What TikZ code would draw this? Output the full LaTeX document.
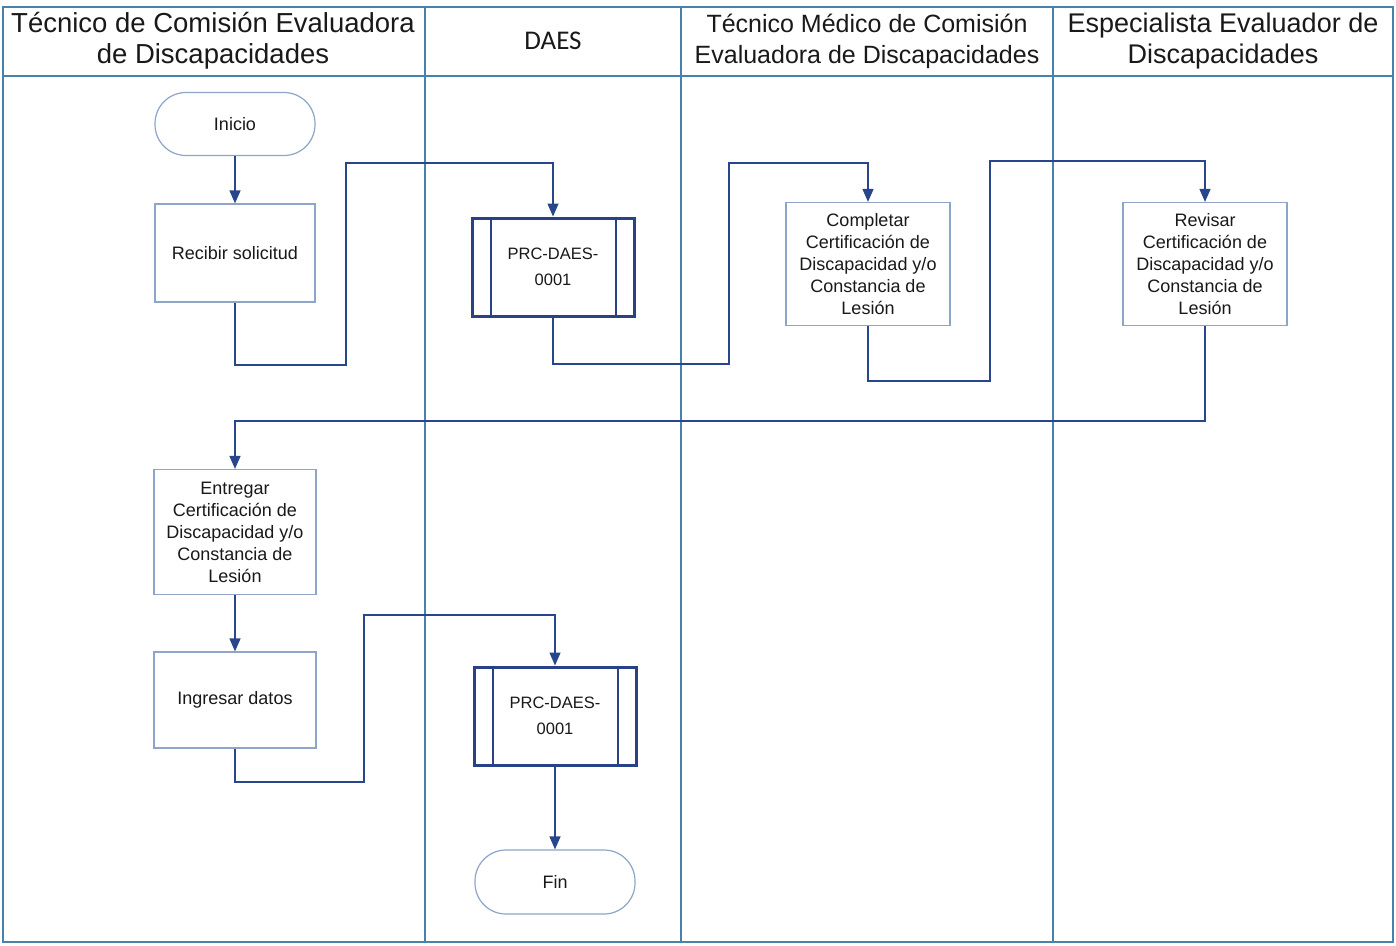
\documentclass[tikz,border=0pt]{standalone}
\usepackage{fontspec}
\setmainfont{Liberation Sans}
\newfontfamily\calibfont{Carlito}
\usetikzlibrary{arrows.meta}
\definecolor{lanec}{RGB}{70,130,170}
\definecolor{connc}{RGB}{40,70,140}
\definecolor{boxc}{RGB}{140,165,200}
\definecolor{prcc}{RGB}{40,65,135}
\definecolor{txtc}{RGB}{25,25,25}
\tikzset{
  lane/.style={draw=lanec, line width=1.4pt},
  hdr/.style={align=center, text=txtc, inner sep=0pt},
  proc/.style={draw=boxc, line width=1.2pt, fill=white, align=center, text=txtc,
    font=\fontsize{18}{22}\selectfont, inner sep=2pt},
  term/.style={proc, rounded corners=31pt, minimum width=160pt, minimum height=63pt},
  prc/.style={draw=prcc, line width=3pt, fill=white, align=center, text=txtc,
    font=\fontsize{16.5}{26}\selectfont, minimum width=162pt, minimum height=98pt},
  prcline/.style={draw=prcc, line width=2pt},
  conn/.style={draw=connc, line width=1.4pt, -{Triangle[width=11pt,length=13pt]}},
}
\begin{document}
\begin{tikzpicture}[x=1pt,y=-1pt]
\useasboundingbox[fill=white] (0,0) rectangle (1396,945);
% frame and lanes
\draw[lane] (3,7) rectangle (1393,942);
\draw[lane] (3,76) -- (1393,76);
\draw[lane] (425,7) -- (425,942);
\draw[lane] (681,7) -- (681,942);
\draw[lane] (1053,7) -- (1053,942);
% headers
\node[hdr, font=\fontsize{27.5}{31}\selectfont] (h1) at (213,41) {Técnico de Comisión Evaluadora\\de Discapacidades};
\node[hdr, font=\calibfont\fontsize{27}{31}\selectfont] (h2) at (553,41) {DAES};
\node[hdr, font=\fontsize{25}{31}\selectfont] (h3) at (867,41) {Técnico Médico de Comisión\\Evaluadora de Discapacidades};
\node[hdr, font=\fontsize{27}{31}\selectfont] (h4) at (1223,41) {Especialista Evaluador de\\Discapacidades};
% nodes
\node[term] (ini) at (235,124) {Inicio};
\node[proc, minimum width=160pt, minimum height=98pt] (rec) at (235,253) {Recibir solicitud};
\node[prc] (p1) at (553,267) {PRC-DAES-\\0001};
\node[proc, minimum width=164pt, minimum height=123pt] (comp) at (868,264) {Completar\\Certificación de\\Discapacidad y/o\\Constancia de\\Lesión};
\node[proc, minimum width=164pt, minimum height=123pt] (rev) at (1205,264) {Revisar\\Certificación de\\Discapacidad y/o\\Constancia de\\Lesión};
\node[proc, minimum width=162pt, minimum height=125pt] (ent) at (235,532) {Entregar\\Certificación de\\Discapacidad y/o\\Constancia de\\Lesión};
\node[proc, minimum width=162pt, minimum height=96pt] (ing) at (235,700) {Ingresar datos};
\node[prc] (p2) at (555,716) {PRC-DAES-\\0001};
\node[term, minimum height=64pt] (fin) at (555,882) {Fin};
% inner lines of predefined process boxes
\foreach \n in {p1,p2}{
  \draw[prcline] ([xshift=20pt]\n.north west) -- ([xshift=20pt]\n.south west);
  \draw[prcline] ([xshift=-20pt]\n.north east) -- ([xshift=-20pt]\n.south east);
}
% connectors
\draw[conn] (ini.south) -- (rec.north);
\draw[conn] (rec.south) -- (235,365) -- (346,365) -- (346,163) -- (553,163) -- (p1.north);
\draw[conn] (p1.south) -- (553,364) -- (729,364) -- (729,163) -- (868,163) -- (comp.north);
\draw[conn] (comp.south) -- (868,381) -- (990,381) -- (990,161) -- (1205,161) -- (rev.north);
\draw[conn] (rev.south) -- (1205,421) -- (235,421) -- (ent.north);
\draw[conn] (ent.south) -- (ing.north);
\draw[conn] (ing.south) -- (235,782) -- (364,782) -- (364,615) -- (555,615) -- (p2.north);
\draw[conn] (p2.south) -- (fin.north);
\end{tikzpicture}
\end{document}
